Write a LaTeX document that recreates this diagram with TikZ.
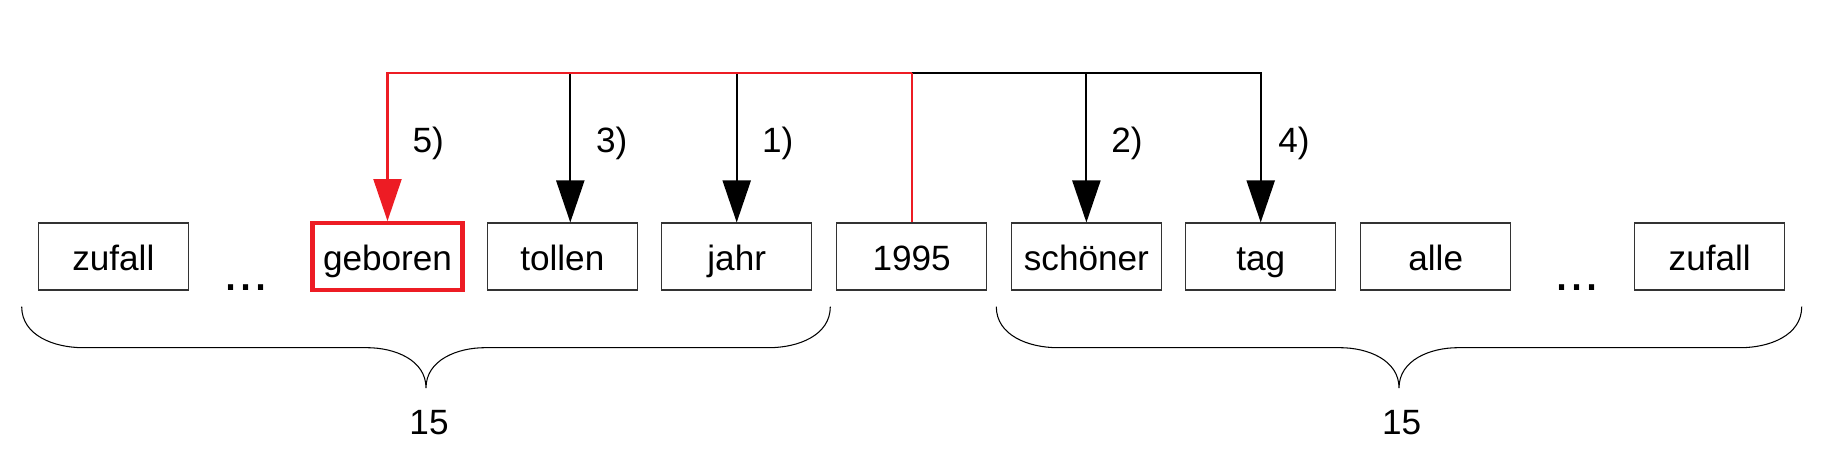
\documentclass[tikz,border=0pt]{standalone}
\usepackage{fontspec}
\setmainfont{Liberation Sans}
\usetikzlibrary{arrows.meta}
\definecolor{markred}{RGB}{237,28,36}

\begin{document}
\begin{tikzpicture}[
	word/.style={draw=black!80, line width=0.4pt, minimum width=1.5cm, minimum height=0.67cm, inner sep=0pt, text height=0.34cm, text depth=0.07cm},
	hit/.style={word, draw=markred, line width=1.2pt},
	link/.style={line width=0.6pt},
	arr/.style={link, -{Triangle[width=0.28cm,length=0.42cm]}},
	brace/.style={line width=0.3pt},
	gap/.style={anchor=base, font=\fontsize{15.4}{18}\selectfont},
	rank/.style={anchor=base}
]
	\useasboundingbox (0,0) rectangle (18.25,4.66);
	\node[word] (zufallL) at (1.133,2.093) {zufall};
	\node[gap] (gapL) at (2.46,1.75) {...};
	\node[hit] (geboren) at (3.875,2.093) {geboren};
	\node[word] (tollen) at (5.623,2.093) {tollen};
	\node[word] (jahr) at (7.367,2.093) {jahr};
	\node[word] (jahrzahl) at (9.117,2.093) {1995};
	\node[word] (schoener) at (10.864,2.093) {schöner};
	\node[word] (tag) at (12.607,2.093) {tag};
	\node[word] (alle) at (14.357,2.093) {alle};
	\node[gap] (gapR) at (15.767,1.75) {...};
	\node[word] (zufallR) at (17.097,2.093) {zufall};
	\coordinate (hub) at (9.117,3.927);
	\coordinate (tollenIn) at ([xshift=0.08cm]tollen.north);
	\draw[arr] (hub) -| (tag.north);
	\draw[arr] (schoener.north |- hub) -- (schoener.north);
	\draw[arr] (jahr.north |- hub) -- (jahr.north);
	\draw[arr] (tollenIn |- hub) -- (tollenIn);
	\draw[link, markred] (jahrzahl.north) -- (hub);
	\draw[arr, markred] (hub) -| (geboren.north);
	\node[rank] (r5) at (4.283,3.133) {5)};
	\node[rank] (r3) at (6.117,3.133) {3)};
	\node[rank] (r1) at (7.778,3.133) {1)};
	\node[rank] (r2) at (11.27,3.133) {2)};
	\node[rank] (r4) at (12.94,3.133) {4)};
	\draw[brace] (0.217,1.593) to[out=-90,in=180] (0.83,1.183) -- (3.67,1.183) to[out=0,in=90] (4.26,0.78) to[out=90,in=180] (4.85,1.183) -- (7.69,1.183) to[out=0,in=-90] (8.303,1.593);
	\draw[brace] (9.963,1.593) to[out=-90,in=180] (10.576,1.183) -- (13.4,1.183) to[out=0,in=90] (13.99,0.78) to[out=90,in=180] (14.58,1.183) -- (17.404,1.183) to[out=0,in=-90] (18.017,1.593);
	\node[rank] (countL) at (4.29,0.31) {15};
	\node[rank] (countR) at (14.017,0.31) {15};
\end{tikzpicture}
\end{document}
